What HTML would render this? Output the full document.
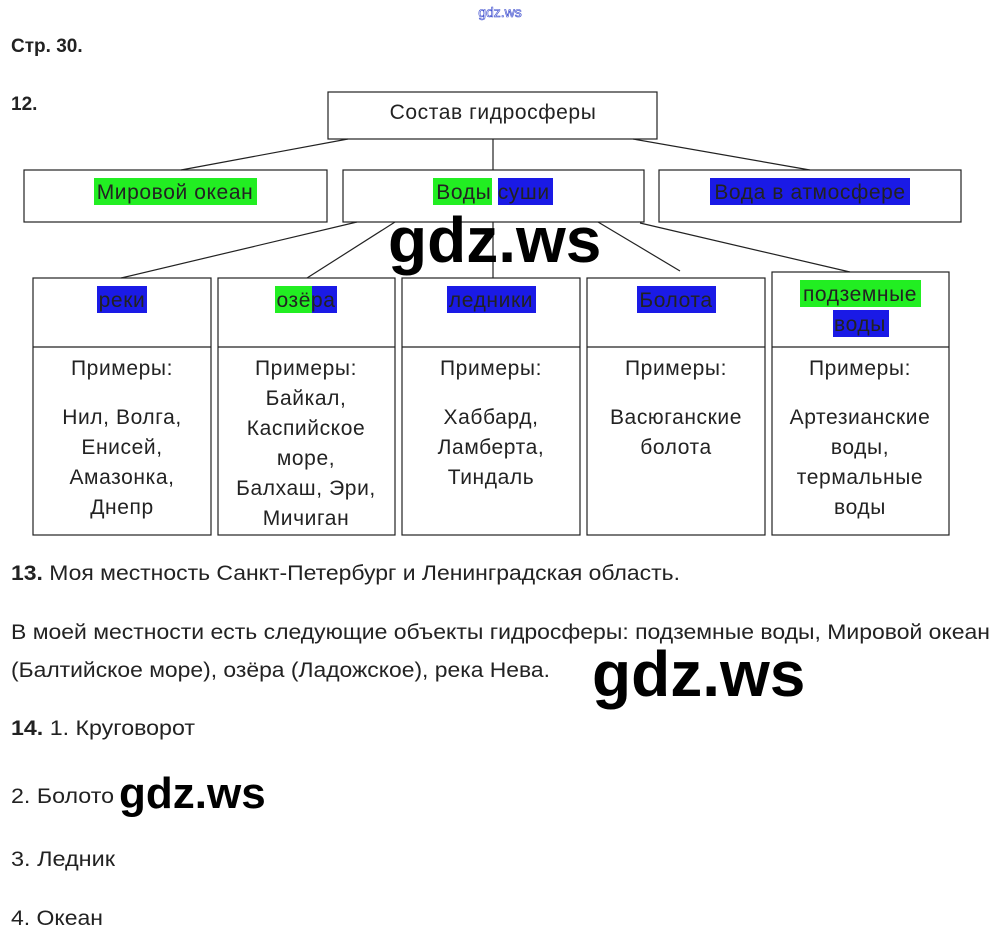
<!DOCTYPE html>
<html><head><meta charset="utf-8"><style>
body{margin:0;background:#fff;width:1000px;height:938px;overflow:hidden;font-family:"Liberation Sans",sans-serif;}
svg text{font-family:"Liberation Sans",sans-serif;}
.t text{letter-spacing:0.6px;}
</style></head><body>
<svg width="1000" height="938" xmlns="http://www.w3.org/2000/svg">
<text x="500" y="17" font-size="14" fill="#fff" stroke="#3344cc" stroke-width="0.6" text-anchor="middle">gdz.ws</text>
<text x="11" y="52" font-size="19" font-weight="bold" fill="#222">Стр. 30.</text>
<text x="11" y="110" font-size="19" font-weight="bold" fill="#222">12.</text>
<g stroke="#222" stroke-width="1.2" fill="none">
<rect x="328" y="92" width="329" height="47"/>
<rect x="24" y="170" width="303" height="52"/>
<rect x="343" y="170" width="301" height="52"/>
<rect x="659" y="170" width="302" height="52"/>
<line x1="348" y1="139" x2="181" y2="170"/>
<line x1="493" y1="139" x2="493" y2="170"/>
<line x1="633" y1="139" x2="810" y2="170"/>
<line x1="357" y1="222" x2="121" y2="278"/>
<line x1="395" y1="222" x2="307" y2="278"/>
<line x1="493" y1="222" x2="493" y2="278"/>
<line x1="598" y1="222" x2="680" y2="271"/>
<line x1="640" y1="223" x2="850" y2="272"/>
<rect x="33" y="278" width="178" height="257"/><line x1="33" y1="347" x2="211" y2="347"/>
<rect x="218" y="278" width="177" height="257"/><line x1="218" y1="347" x2="395" y2="347"/>
<rect x="402" y="278" width="178" height="257"/><line x1="402" y1="347" x2="580" y2="347"/>
<rect x="587" y="278" width="178" height="257"/><line x1="587" y1="347" x2="765" y2="347"/>
<rect x="772" y="272" width="177" height="263"/><line x1="772" y1="347" x2="949" y2="347"/>
</g>
<rect x="94" y="178" width="163" height="27" fill="#22ee22"/>
<rect x="433" y="178" width="59" height="27" fill="#22ee22"/>
<rect x="498" y="178" width="55" height="27" fill="#1a1ae6"/>
<rect x="710" y="178" width="200" height="27" fill="#1a1ae6"/>
<rect x="97" y="286" width="50" height="27" fill="#1a1ae6"/>
<rect x="275" y="286" width="37" height="27" fill="#22ee22"/>
<rect x="312" y="286" width="25" height="27" fill="#1a1ae6"/>
<rect x="447" y="286" width="89" height="27" fill="#1a1ae6"/>
<rect x="637" y="286" width="79" height="27" fill="#1a1ae6"/>
<rect x="800" y="280" width="121" height="27" fill="#22ee22"/>
<rect x="833" y="310" width="56" height="27" fill="#1a1ae6"/>
<g class="t" font-size="21" fill="#222" text-anchor="middle">
<text x="493" y="119">Состав гидросферы</text>
<text x="175" y="199">Мировой океан</text>
<text x="493" y="199">Воды суши</text>
<text x="810" y="199">Вода в атмосфере</text>
<text x="122" y="307">реки</text>
<text x="306" y="307">озёра</text>
<text x="491" y="307">ледники</text>
<text x="676" y="307">Болота</text>
<text x="860" y="301">подземные</text>
<text x="860" y="331">воды</text>
<text x="122" y="375">Примеры:</text>
<text x="122" y="424">Нил, Волга,</text>
<text x="122" y="454">Енисей,</text>
<text x="122" y="484">Амазонка,</text>
<text x="122" y="514">Днепр</text>
<text x="306" y="375">Примеры:</text>
<text x="306" y="405">Байкал,</text>
<text x="306" y="435">Каспийское</text>
<text x="306" y="465">море,</text>
<text x="306" y="495">Балхаш, Эри,</text>
<text x="306" y="525">Мичиган</text>
<text x="491" y="375">Примеры:</text>
<text x="491" y="424">Хаббард,</text>
<text x="491" y="454">Ламберта,</text>
<text x="491" y="484">Тиндаль</text>
<text x="676" y="375">Примеры:</text>
<text x="676" y="424">Васюганские</text>
<text x="676" y="454">болота</text>
<text x="860" y="375">Примеры:</text>
<text x="860" y="424">Артезианские</text>
<text x="860" y="454">воды,</text>
<text x="860" y="484">термальные</text>
<text x="860" y="514">воды</text>
</g>
<g font-size="21" fill="#222">
<text x="11" y="580" textLength="669" lengthAdjust="spacingAndGlyphs"><tspan font-weight="bold">13.</tspan> Моя местность Санкт-Петербург и Ленинградская область.</text>
<text x="11" y="639" textLength="979" lengthAdjust="spacingAndGlyphs">В моей местности есть следующие объекты гидросферы: подземные воды, Мировой океан</text>
<text x="11" y="677" textLength="539" lengthAdjust="spacingAndGlyphs">(Балтийское море), озёра (Ладожское), река Нева.</text>
<text x="11" y="735" textLength="184" lengthAdjust="spacingAndGlyphs"><tspan font-weight="bold">14.</tspan> 1. Круговорот</text>
<text x="11" y="803" textLength="103" lengthAdjust="spacingAndGlyphs">2. Болото</text>
<text x="11" y="866" textLength="104" lengthAdjust="spacingAndGlyphs">3. Ледник</text>
<text x="11" y="925" textLength="92" lengthAdjust="spacingAndGlyphs">4. Океан</text>
</g>
<g font-weight="bold" fill="#000">
<text x="388" y="262" font-size="64">gdz.ws</text>
<text x="592" y="696" font-size="64">gdz.ws</text>
<text x="119" y="808" font-size="44">gdz.ws</text>
</g>
</svg>
</body></html>
